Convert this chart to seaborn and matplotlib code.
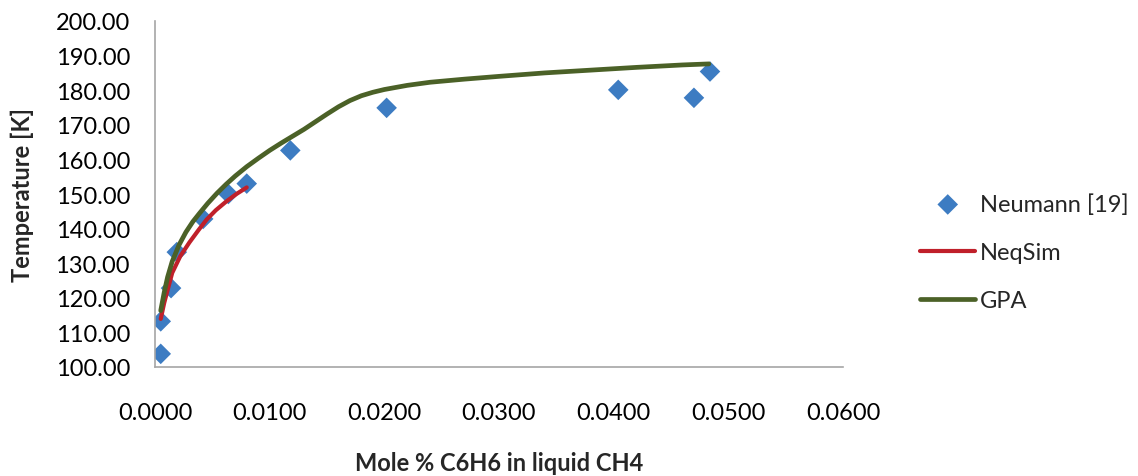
import matplotlib
matplotlib.use("Agg")
import matplotlib.pyplot as plt
import seaborn as sns
import pandas as pd
from matplotlib.ticker import FormatStrFormatter

# Data
neumann_x = [0.0005, 0.0005, 0.0014, 0.0019, 0.0042, 0.0064, 0.0080, 0.0118, 0.0202, 0.0404, 0.0470, 0.0484]
neumann_T = [103.8, 113.2, 122.8, 133.2, 142.8, 150.0, 153.0, 162.6, 174.9, 180.1, 177.8, 185.4]

neqsim_x = [0.0005, 0.0008, 0.0010, 0.0015, 0.0022, 0.0030, 0.0038, 0.0045, 0.0053, 0.0062, 0.0071, 0.0080]
neqsim_T = [113.9, 118.5, 121.0, 127.2, 132.0, 136.0, 139.6, 142.6, 145.3, 147.8, 150.0, 151.9]

gpa_x = [0.0005, 0.0008, 0.0011, 0.0015, 0.0021, 0.0027, 0.0033, 0.0039, 0.0046, 0.0054, 0.0062, 0.0070,
         0.0080, 0.0090, 0.0100, 0.0110, 0.0120, 0.0130, 0.0140, 0.0150, 0.0160, 0.0170, 0.0180, 0.0190,
         0.0200, 0.0220, 0.0240, 0.0270, 0.0300, 0.0340, 0.0380, 0.0420, 0.0460, 0.0483]
gpa_T = [116.3, 121.5, 126.0, 130.5, 135.3, 139.0, 142.0, 144.5, 147.3, 150.2, 152.8, 155.2,
         157.9, 160.3, 162.6, 164.7, 166.7, 168.7, 170.9, 173.1, 175.2, 177.0, 178.4, 179.4,
         180.2, 181.4, 182.3, 183.2, 184.0, 185.0, 185.8, 186.6, 187.3, 187.6]

x_ticks = [0.0, 0.01, 0.02, 0.03, 0.04, 0.05, 0.06]
y_ticks = [100, 110, 120, 130, 140, 150, 160, 170, 180, 190, 200]

sns.set_style("white")
plt.rcParams['font.family'] = ['Lato', 'DejaVu Sans']

W, H = 1138, 477
fig = plt.figure(figsize=(W / 100, H / 100), dpi=100)
ax = fig.add_axes([155 / W, 1 - 368 / H, (843 - 155) / W, (368 - 22) / H])

df_n = pd.DataFrame({"x": neumann_x, "T": neumann_T})
df_q = pd.DataFrame({"x": neqsim_x, "T": neqsim_T})
df_g = pd.DataFrame({"x": gpa_x, "T": gpa_T})

sns.scatterplot(data=df_n, x="x", y="T", marker="D", s=110, color="#3D7CC2",
                edgecolor="none", ax=ax, label="Neumann [19]", zorder=2)
sns.lineplot(data=df_q, x="x", y="T", color="#C0202A", linewidth=3.0, sort=False,
             estimator=None, ax=ax, label="NeqSim", zorder=3, solid_capstyle="round")
sns.lineplot(data=df_g, x="x", y="T", color="#4B6127", linewidth=3.4, sort=False,
             estimator=None, ax=ax, label="GPA", zorder=4, solid_capstyle="round")

FS = 17
ax.set_xlim(0, 0.06)
ax.set_ylim(100, 200)
ax.set_xticks(x_ticks)
ax.set_yticks(y_ticks)
ax.xaxis.set_major_formatter(FormatStrFormatter("%.4f"))
ax.yaxis.set_major_formatter(FormatStrFormatter("%.2f"))
ax.tick_params(axis="both", length=0, labelsize=FS, colors="#000000")
ax.tick_params(axis="x", pad=25)
ax.tick_params(axis="y", pad=18)
for s in ["top", "right"]:
    ax.spines[s].set_visible(False)
for s in ["left", "bottom"]:
    ax.spines[s].set_color("#A6A6A6")
    ax.spines[s].set_linewidth(1.2)
ax.grid(False)

ax.set_xlabel("Mole % C6H6 in liquid CH4", fontsize=FS, fontweight="bold")
ax.set_ylabel("Temperature [K]", fontsize=FS, fontweight="bold")
ax.xaxis.label.set_va("center")
ax.yaxis.label.set_va("center")
ax.xaxis.set_label_coords(0.5, (368 - 464) / 346)
ax.yaxis.set_label_coords((22 - 155) / 688, (368 - 195) / 346)

handles, labels = ax.get_legend_handles_labels()
ax.legend_.remove()
fig.legend(handles, labels, loc="center left", bbox_to_anchor=(920 / W, 1 - 253 / H),
           frameon=False, fontsize=FS, handlelength=2.35, labelspacing=1.15,
           handletextpad=0.2, borderpad=0, borderaxespad=0)

fig.savefig("out.png", dpi=100)
